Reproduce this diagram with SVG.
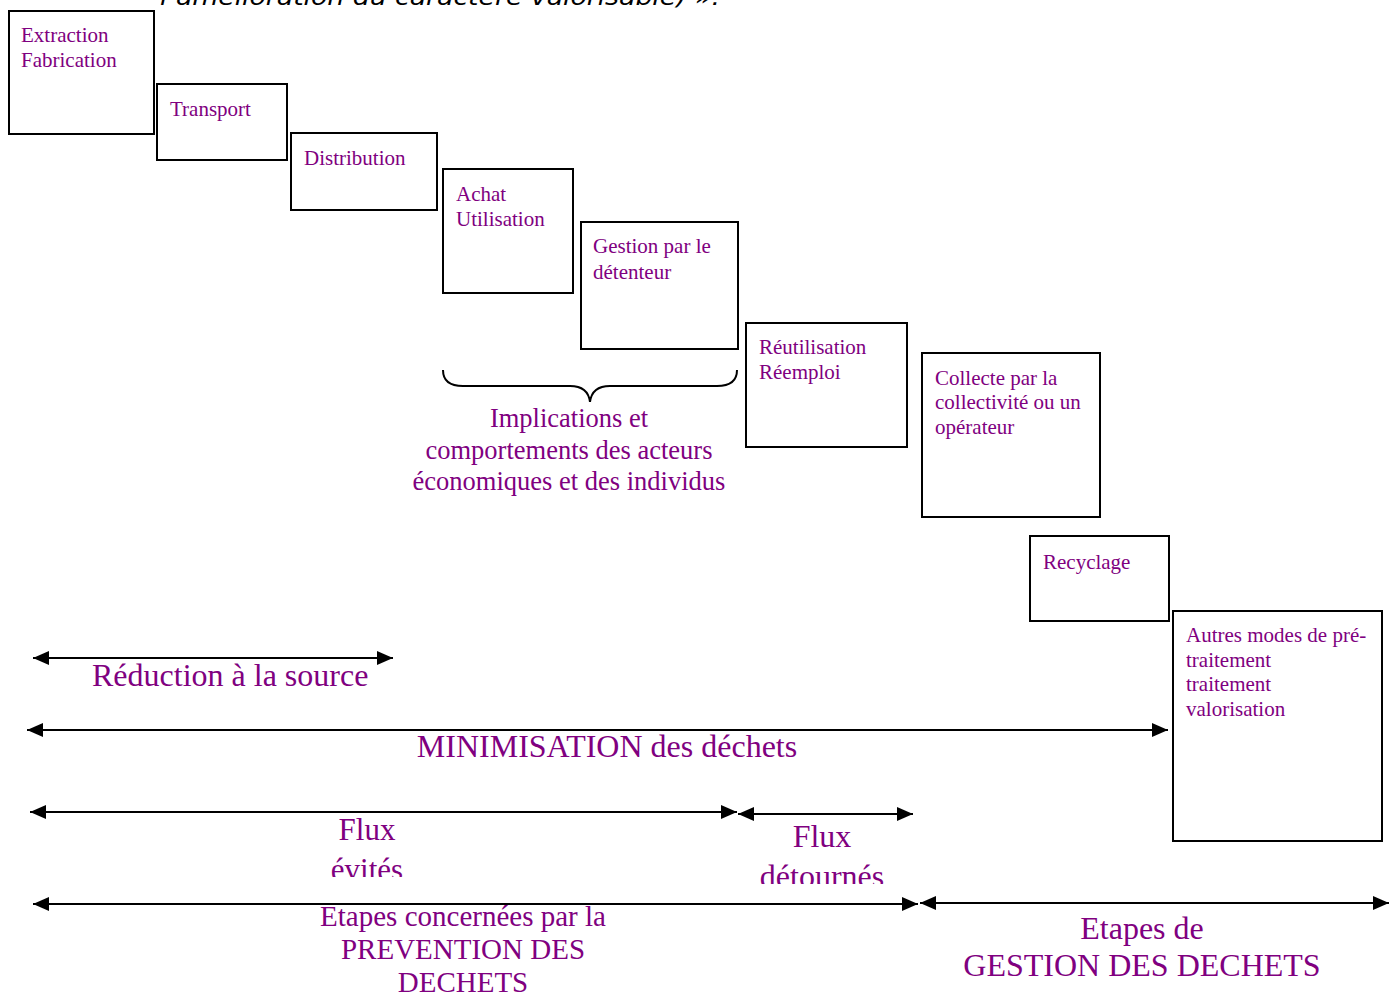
<svg xmlns="http://www.w3.org/2000/svg" width="1389" height="992" viewBox="0 0 1389 992">
<defs>
<style>
.box{fill:#fff;stroke:#000;stroke-width:2}
.t{font-family:"Liberation Serif","Times New Roman",serif;fill:#800080}
.s{font-size:21px}
.conn line{stroke:#000;stroke-width:2;marker-start:url(#ah);marker-end:url(#ah)}
</style>
<marker id="ah" markerUnits="userSpaceOnUse" markerWidth="16" markerHeight="14" refX="16" refY="7" orient="auto-start-reverse" viewBox="0 0 16 14">
<path d="M0,0 L16,7 L0,14 z" fill="#000"/>
</marker>
<clipPath id="clipFE"><rect x="0" y="0" width="1389" height="877"/></clipPath>
<clipPath id="clipFD"><rect x="0" y="0" width="1389" height="884"/></clipPath>
</defs>
<rect width="1389" height="992" fill="#fff"/>
<text x="160" y="5" font-family="'DejaVu Sans',Verdana,sans-serif" font-style="italic" font-size="23" fill="#000" textLength="560" lengthAdjust="spacingAndGlyphs">l’amélioration du caractère valorisable) ».</text>

<g id="n-extraction"><rect class="box" x="9" y="11" width="145" height="123"/><text class="t s" x="21" y="42">Extraction</text><text class="t s" x="21" y="67">Fabrication</text></g>
<g id="n-transport"><rect class="box" x="157" y="84" width="130" height="76"/><text class="t s" x="170" y="116">Transport</text></g>
<g id="n-distribution"><rect class="box" x="291" y="133" width="146" height="77"/><text class="t s" x="304" y="165">Distribution</text></g>
<g id="n-achat"><rect class="box" x="443" y="169" width="130" height="124"/><text class="t s" x="456" y="201">Achat</text><text class="t s" x="456" y="226">Utilisation</text></g>
<g id="n-gestion"><rect class="box" x="581" y="222" width="157" height="127"/><text class="t s" x="593" y="253">Gestion par le</text><text class="t s" x="593" y="279">détenteur</text></g>
<g id="n-reutilisation"><rect class="box" x="746" y="323" width="161" height="124"/><text class="t s" x="759" y="354">Réutilisation</text><text class="t s" x="759" y="379">Réemploi</text></g>
<g id="n-collecte"><rect class="box" x="922" y="353" width="178" height="164"/><text class="t s" x="935" y="385">Collecte par la</text><text class="t s" x="935" y="409">collectivité ou un</text><text class="t s" x="935" y="434">opérateur</text></g>
<g id="n-recyclage"><rect class="box" x="1030" y="536" width="139" height="85"/><text class="t s" x="1043" y="569">Recyclage</text></g>
<g id="n-autres"><rect class="box" x="1173" y="611" width="209" height="230"/><text class="t s" x="1186" y="642">Autres modes de pré-</text><text class="t s" x="1186" y="667">traitement</text><text class="t s" x="1186" y="691">traitement</text><text class="t s" x="1186" y="716">valorisation</text></g>

<g id="brace">
<path d="M443,370 Q443,386 463,386 L570,386 Q588,386 590,402 Q592,386 610,386 L717,386 Q737,386 737,370" fill="none" stroke="#000" stroke-width="2"/>
<text class="t" font-size="26.5" text-anchor="middle"><tspan x="569" y="427">Implications et</tspan><tspan x="569" y="459">comportements des acteurs</tspan><tspan x="569" y="490">économiques et des individus</tspan></text>
</g>

<g class="conn" id="connectors">
<line x1="33" y1="658" x2="393" y2="658"/>
<line x1="27" y1="730" x2="1168" y2="730"/>
<line x1="30" y1="812" x2="737" y2="812"/>
<line x1="738" y1="814" x2="913" y2="814"/>
<line x1="33" y1="904" x2="918" y2="904"/>
<line x1="920" y1="903" x2="1389" y2="903"/>
</g>

<g id="labels">
<text class="t" x="92" y="686" font-size="32">Réduction à la source</text>
<text class="t" x="607" y="757" font-size="32" text-anchor="middle">MINIMISATION des déchets</text>
<text class="t" font-size="31" text-anchor="middle" clip-path="url(#clipFE)"><tspan x="367" y="840">Flux</tspan><tspan x="367" y="880">évités</tspan></text>
<text class="t" font-size="32" text-anchor="middle" clip-path="url(#clipFD)"><tspan x="822" y="847">Flux</tspan><tspan x="822" y="887">détournés</tspan></text>
<text class="t" font-size="29" text-anchor="middle"><tspan x="463" y="926">Etapes concernées par la</tspan><tspan x="463" y="959">PREVENTION DES</tspan><tspan x="463" y="992">DECHETS</tspan></text>
<text class="t" font-size="32" text-anchor="middle"><tspan x="1142" y="939">Etapes de</tspan><tspan x="1142" y="976">GESTION DES DECHETS</tspan></text>
</g>
</svg>
